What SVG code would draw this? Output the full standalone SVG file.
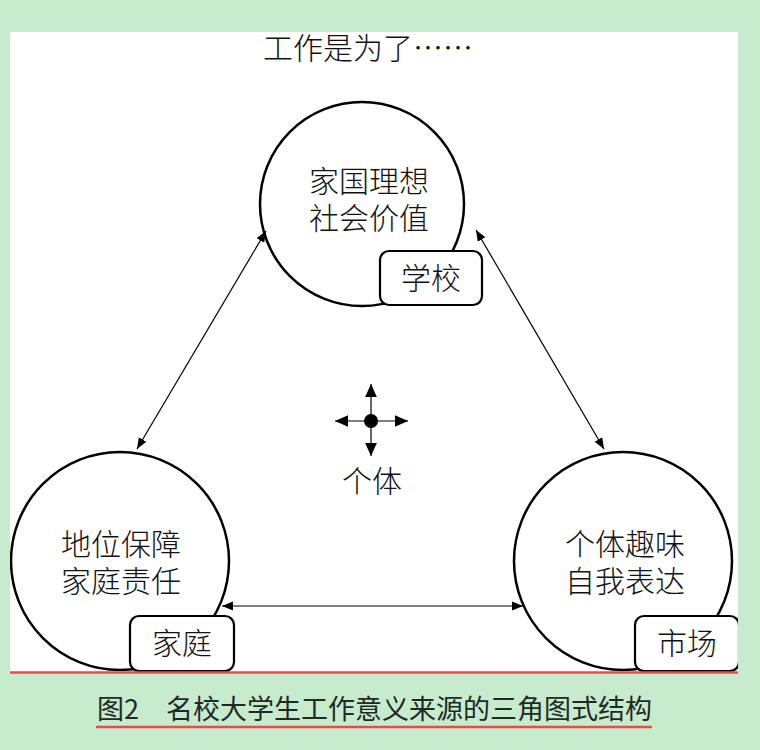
<svg xmlns="http://www.w3.org/2000/svg" width="760" height="750" viewBox="0 0 760 750">
  <defs>
    <marker id="ah" viewBox="0 0 10 10" refX="10" refY="5" markerWidth="11" markerHeight="11" markerUnits="userSpaceOnUse" orient="auto-start-reverse">
      <path d="M0,1 L10,5 L0,9 Z" fill="#000"/>
    </marker>
    <marker id="ahc" viewBox="0 0 10 10" refX="10" refY="5" markerWidth="16" markerHeight="13" markerUnits="userSpaceOnUse" orient="auto">
      <path d="M0,0.5 L10,5 L0,9.5 Z" fill="#000"/>
    </marker>
    <clipPath id="panel">
      <rect x="10" y="32" width="728" height="640"/>
    </clipPath>
  </defs>
  <style>
    .t { font-family: "Noto Sans CJK SC", "Noto Sans", sans-serif; font-size: 30px; fill: #111; text-anchor: middle; font-weight: 300; }
    .circ { fill: #fff; stroke: #000; stroke-width: 2.5; }
    .tag { fill: #fff; stroke: #000; stroke-width: 2.2; }
    .conn { stroke: #000; stroke-width: 1.2; fill: none; }
    .cap { font-family: "Noto Sans CJK SC", "Noto Sans", sans-serif; font-size: 27px; fill: #1e2a28; }
  </style>

  <!-- page background and white panel -->
  <rect x="0" y="0" width="760" height="750" fill="#c7eccd"/>
  <rect x="10" y="32" width="728" height="640" fill="#fff"/>

  <text class="t" x="368" y="59">工作是为了……</text>

  <g clip-path="url(#panel)">
    <!-- top node -->
    <g id="node-school">
      <circle class="circ" cx="362" cy="204" r="102"/>
      <text class="t"><tspan x="369" y="192">家国理想</tspan><tspan x="369" y="229">社会价值</tspan></text>
      <rect class="tag" x="380" y="251" width="102" height="54" rx="9"/>
      <text class="t" x="431" y="289">学校</text>
    </g>

    <!-- bottom left node -->
    <g id="node-family">
      <circle class="circ" cx="120" cy="561" r="109"/>
      <text class="t"><tspan x="121" y="555">地位保障</tspan><tspan x="121" y="592">家庭责任</tspan></text>
      <rect class="tag" x="130" y="616" width="104" height="55" rx="9"/>
      <text class="t" x="182" y="654">家庭</text>
    </g>

    <!-- bottom right node -->
    <g id="node-market">
      <circle class="circ" cx="623" cy="561" r="109"/>
      <text class="t"><tspan x="625" y="555">个体趣味</tspan><tspan x="625" y="592">自我表达</tspan></text>
      <rect class="tag" x="635" y="616" width="104" height="55" rx="9"/>
      <text class="t" x="687" y="654">市场</text>
    </g>
  </g>

  <!-- centre: individual -->
  <g id="node-individual">
    <line class="conn" x1="371" y1="421" x2="371" y2="384" marker-end="url(#ahc)"/>
    <line class="conn" x1="371" y1="421" x2="371" y2="456" marker-end="url(#ahc)"/>
    <line class="conn" x1="371" y1="421" x2="335" y2="421" marker-end="url(#ahc)"/>
    <line class="conn" x1="371" y1="421" x2="408" y2="421" marker-end="url(#ahc)"/>
    <circle cx="371" cy="421" r="7" fill="#000"/>
    <text class="t" x="372" y="492">个体</text>
  </g>

  <!-- connectors between nodes -->
  <g id="connectors">
    <line class="conn" x1="266" y1="231" x2="137" y2="449" marker-start="url(#ah)" marker-end="url(#ah)"/>
    <line class="conn" x1="476" y1="230" x2="604" y2="449" marker-start="url(#ah)" marker-end="url(#ah)"/>
    <line class="conn" x1="222" y1="606" x2="523" y2="606" marker-start="url(#ah)" marker-end="url(#ah)"/>
  </g>

  <!-- caption -->
  <line x1="10" y1="672.5" x2="738" y2="672.5" stroke="#f04848" stroke-width="2.5"/>
  <text class="cap" x="97" y="719">图2</text>
  <text class="cap" x="166" y="719">名校大学生工作意义来源的三角图式结构</text>
  <line x1="96" y1="727" x2="652" y2="727" stroke="#f04848" stroke-width="2.5"/>
</svg>
